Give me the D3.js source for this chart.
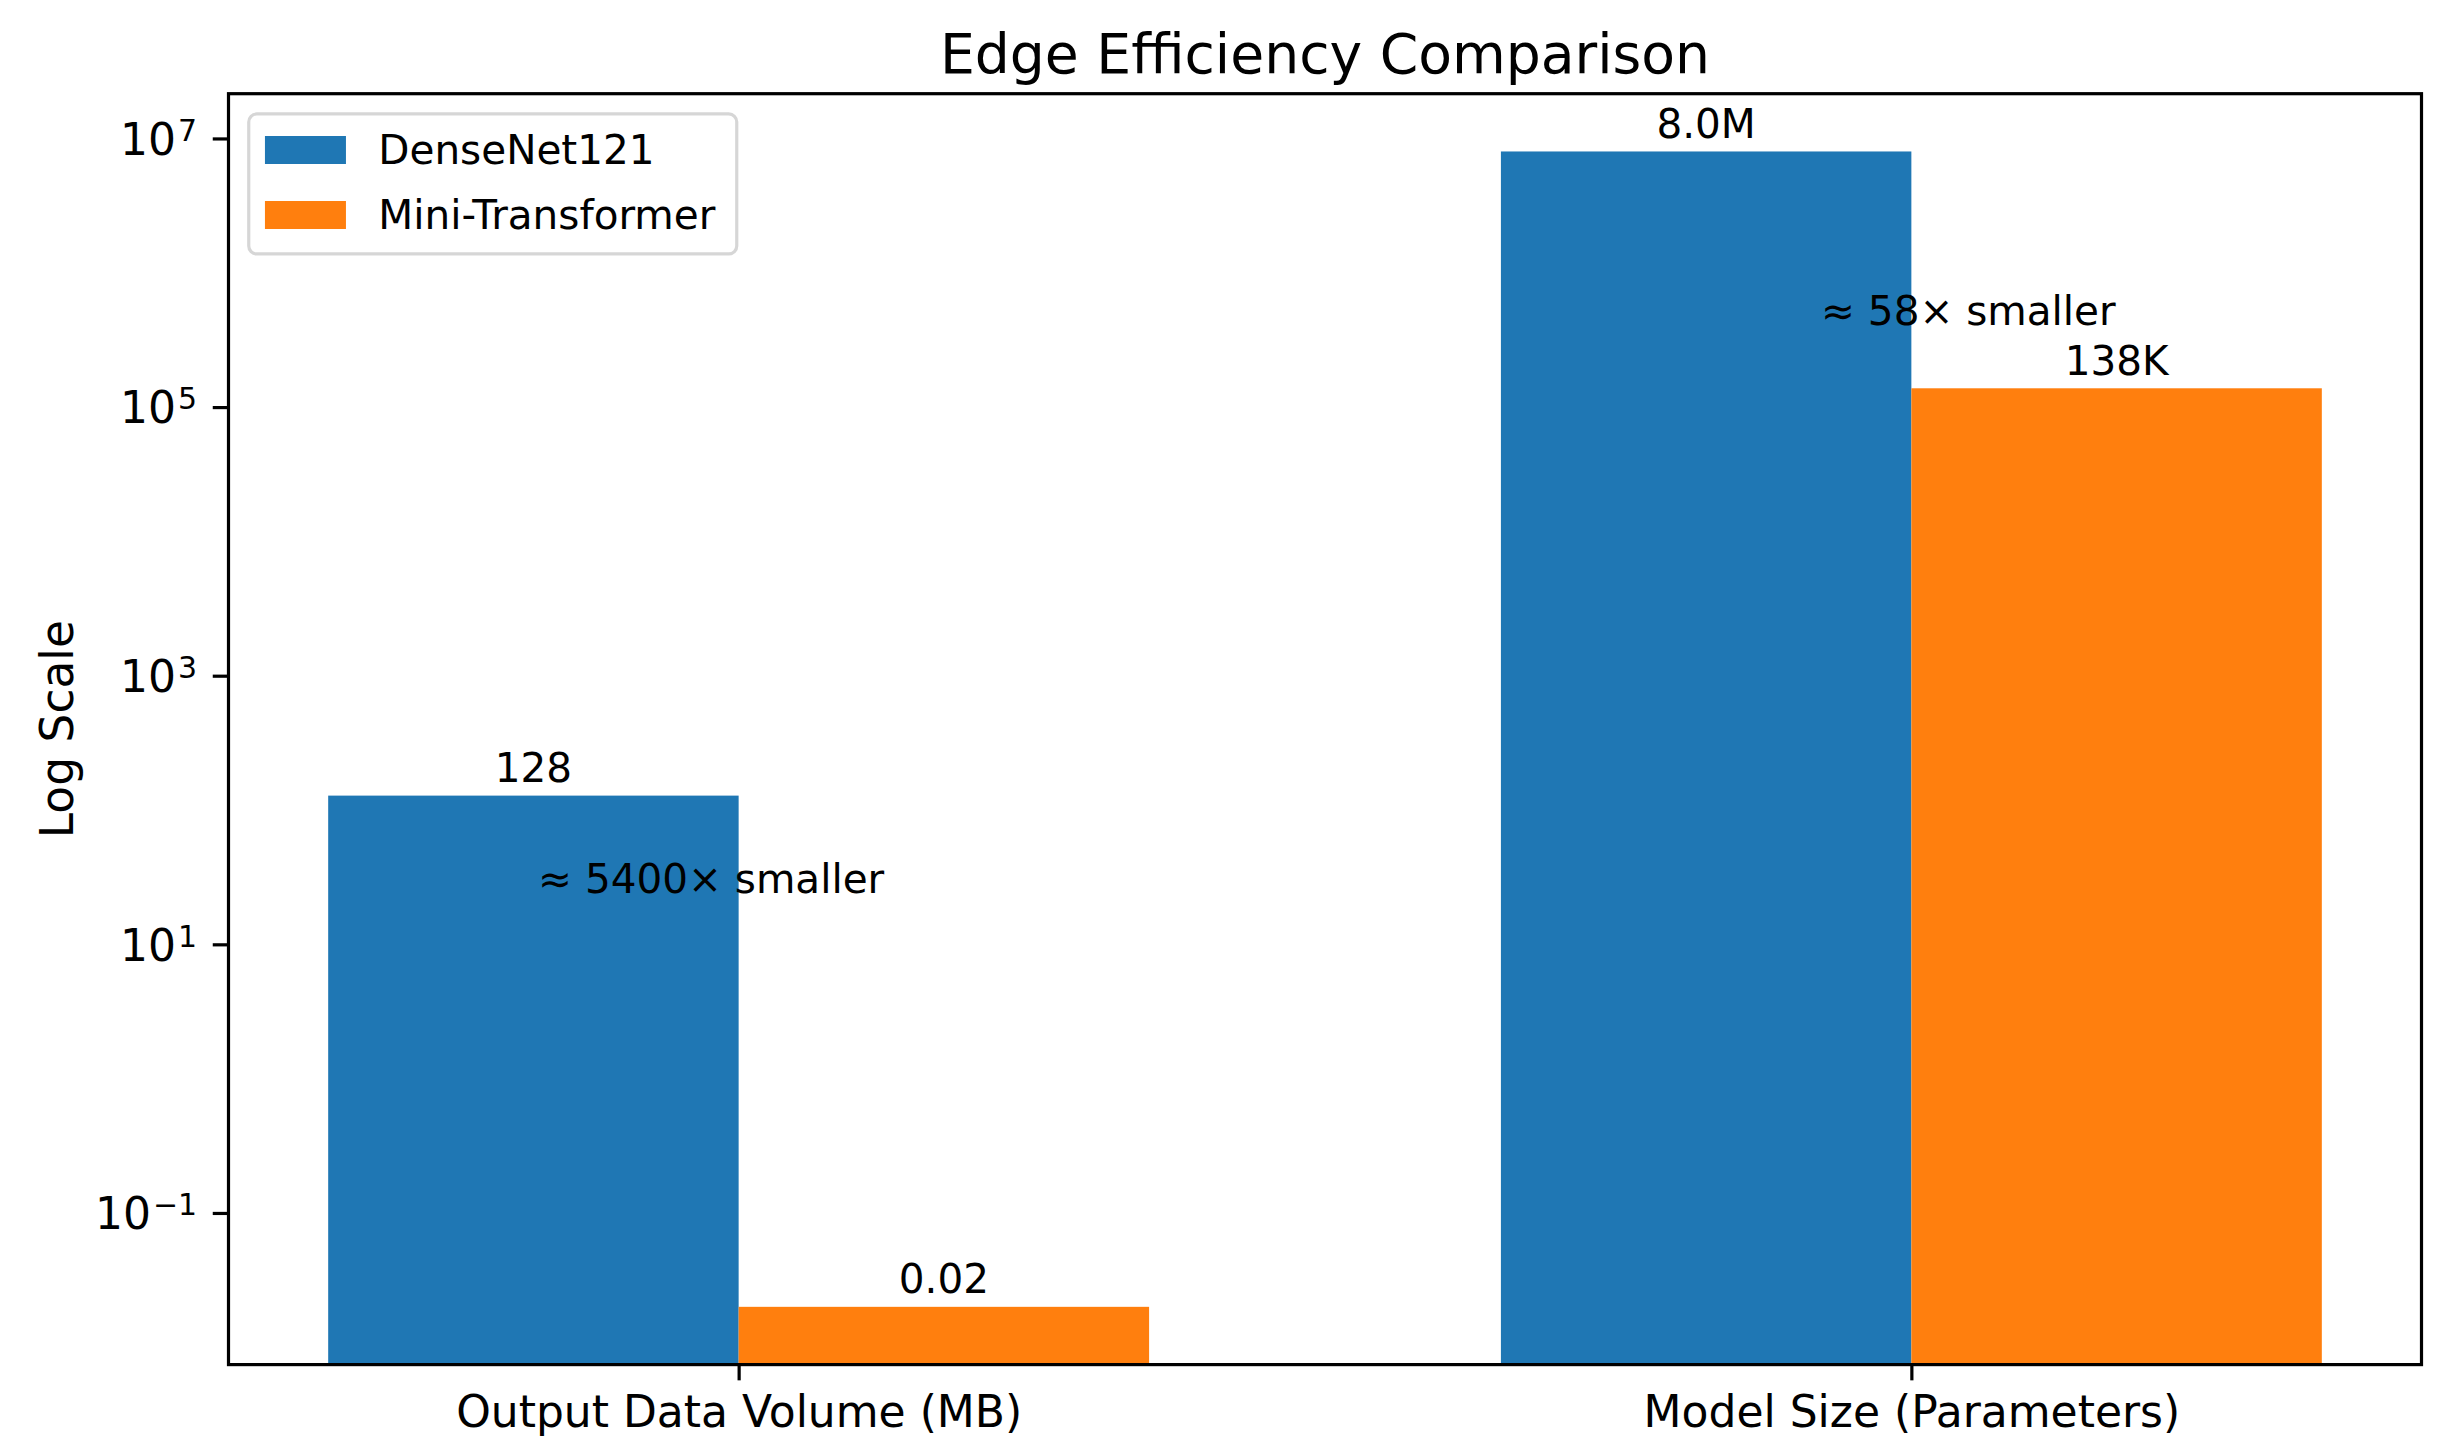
<!DOCTYPE html>
<html><head><meta charset="utf-8">
<script src="https://cdn.jsdelivr.net/npm/d3@7"></script>
<style>
body{margin:0;background:#fff}
text{font-family:"DejaVu Sans",sans-serif;fill:#000}
</style>
</head><body>
<svg id="c" width="2448" height="1444" xmlns="http://www.w3.org/2000/svg"></svg>
<script>
// ---- data ----
const categories = ["Output Data Volume (MB)", "Model Size (Parameters)"];
const seriesNames = ["DenseNet121", "Mini-Transformer"];
const denseValues = [128, 8.0e6];
const miniValues = [0.02, 138000];
const denseLabels = ["128", "8.0M"];
const miniLabels = ["0.02", "138K"];
const yTickExponents = [-1, 1, 3, 5, 7];
const annotationTexts = ["≈ 5400× smaller", "≈ 58× smaller"];
const annotationX = [-0.171, 0.923];   // in category units
const annotationY = [24.2, 4.08e5];    // in data units (baseline)
const seriesColors = ["#1f77b4", "#ff7f0e"];
const chartTitle = "Edge Efficiency Comparison";
const yAxisLabel = "Log Scale";

// ---- layout ----
const W = 2448, H = 1444;
const L = 228.5, R = 2421.5, T = 93.7, B = 1364.6;
const barW = 0.35;
const pt = 4.5; // px per point
const tickFont = 44, smallFont = 40.5, titleFont = 55.2, labelFont = 45.5;

const svg = d3.select("#c");
svg.append("rect").attr("width", W).attr("height", H).attr("fill", "#fff");

const series = [
  {name: seriesNames[0], values: denseValues, labels: denseLabels, color: seriesColors[0], off: -barW/2},
  {name: seriesNames[1], values: miniValues, labels: miniLabels, color: seriesColors[1], off: barW/2}
];

const xLo = -barW, xHi = (categories.length - 1) + barW;
const xm = (xHi - xLo) * 0.05;
const x = d3.scaleLinear().domain([xLo - xm, xHi + xm]).range([L, R]);

const allVals = denseValues.concat(miniValues);
const lgMin = Math.log10(d3.min(allVals)), lgMax = Math.log10(d3.max(allVals));
const ym = (lgMax - lgMin) * 0.05;
const y = d3.scaleLog().domain([Math.pow(10, lgMin - ym), Math.pow(10, lgMax + ym)]).range([B, T]);

// clip
svg.append("clipPath").attr("id", "clip").append("rect")
  .attr("x", L).attr("y", T).attr("width", R - L).attr("height", B - T);

const plot = svg.append("g").attr("clip-path", "url(#clip)");
const bw = x(barW) - x(0);

series.forEach(s => {
  plot.selectAll(null).data(s.values).enter().append("rect")
    .attr("x", (d, i) => x(i + s.off) - bw/2)
    .attr("y", d => y(d))
    .attr("width", bw)
    .attr("height", d => B - y(d) + 5)
    .attr("fill", s.color);
});

// value labels
series.forEach(s => {
  svg.selectAll(null).data(s.values).enter().append("text")
    .attr("x", (d, i) => x(i + s.off))
    .attr("y", d => y(d) - 3 * pt)
    .attr("text-anchor", "middle")
    .attr("font-size", smallFont)
    .text((d, i) => s.labels[i]);
});

// annotations
svg.selectAll(null).data(annotationTexts).enter().append("text")
  .attr("x", (d, i) => x(annotationX[i]))
  .attr("y", (d, i) => y(annotationY[i]))
  .attr("text-anchor", "start")
  .attr("font-size", smallFont)
  .text(d => d);

// x axis
const xAxis = d3.axisBottom(x)
  .tickValues(categories.map((c, i) => i))
  .tickFormat(i => categories[i])
  .tickSize(3.5 * pt).tickPadding(3.5 * pt);
const gx = svg.append("g").attr("transform", `translate(0,${B})`).call(xAxis);
gx.select(".domain").remove();
gx.selectAll(".tick line").attr("stroke", "#000").attr("stroke-width", 3.2);
gx.selectAll(".tick text").attr("font-size", tickFont).attr("font-family", "DejaVu Sans").attr("fill", "#000");

// y axis
const yAxis = d3.axisLeft(y)
  .tickValues(yTickExponents.map(e => Math.pow(10, e)))
  .tickFormat("")
  .tickSize(3.5 * pt).tickPadding(3.5 * pt);
const gy = svg.append("g").attr("transform", `translate(${L},0)`).call(yAxis);
gy.select(".domain").remove();
gy.selectAll(".tick line").attr("stroke", "#000").attr("stroke-width", 3.2);
gy.selectAll(".tick text")
  .attr("font-size", tickFont).attr("font-family", "DejaVu Sans").attr("fill", "#000")
  .attr("dy", "0.36em")
  .each(function(d, i) {
    const t = d3.select(this);
    t.text(null);
    t.append("tspan").text("10");
    const e = yTickExponents[i];
    t.append("tspan").attr("dy", "-0.47em").attr("font-size", tickFont * 0.68)
      .attr("dx", 2)
      .text(e < 0 ? "\u2212" + Math.abs(e) : String(e));
  });

// frame (spines)
svg.append("rect").attr("x", L).attr("y", T).attr("width", R - L).attr("height", B - T)
  .attr("fill", "none").attr("stroke", "#000").attr("stroke-width", 3.2);

// title
svg.append("text").attr("x", (L + R) / 2).attr("y", 73.3)
  .attr("text-anchor", "middle").attr("font-size", titleFont).text(chartTitle);

// y label
svg.append("text").attr("transform", `translate(73,${(T + B) / 2}) rotate(-90)`)
  .attr("text-anchor", "middle").attr("font-size", labelFont).text(yAxisLabel);

// legend
const lg = svg.append("g");
const lgX = L + 0.5 * smallFont, lgY = T + 0.5 * smallFont;
lg.append("rect").attr("x", lgX).attr("y", lgY).attr("width", 488).attr("height", 140)
  .attr("rx", 8).attr("fill", "#fff").attr("fill-opacity", 0.8)
  .attr("stroke", "#cccccc").attr("stroke-opacity", 0.8).attr("stroke-width", 3.2);
series.forEach((s, i) => {
  const rowY = 136 + i * 65;
  lg.append("rect").attr("x", lgX + 0.4 * smallFont).attr("y", rowY)
    .attr("width", 2 * smallFont).attr("height", 28).attr("fill", s.color);
  lg.append("text").attr("x", lgX + 0.4 * smallFont + 2 * smallFont + 0.8 * smallFont)
    .attr("y", rowY + 28).attr("font-size", smallFont).text(s.name);
});
</script>
</body></html>
